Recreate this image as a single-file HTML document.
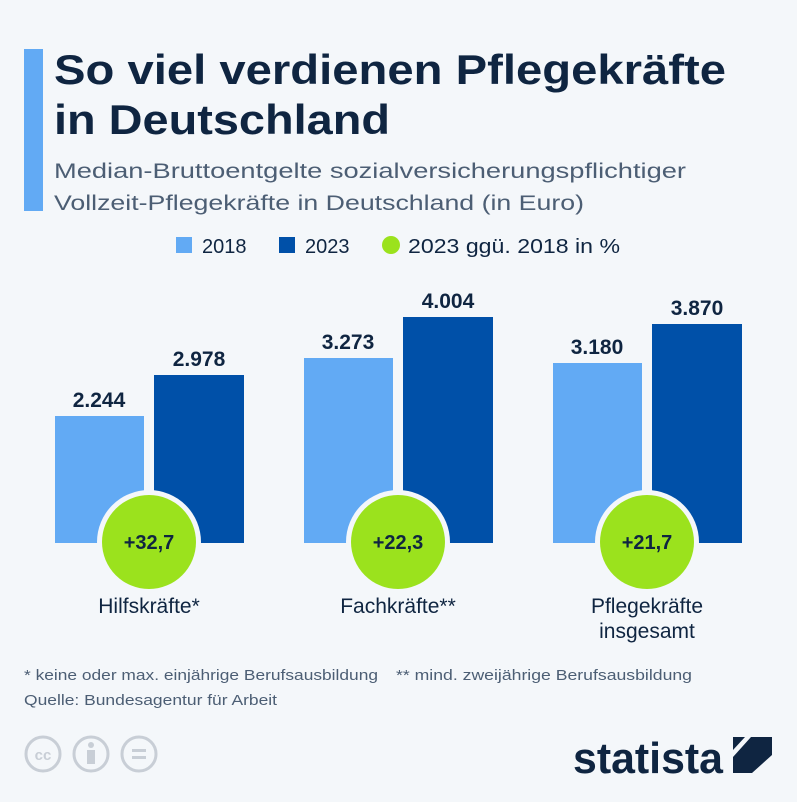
<!DOCTYPE html>
<html><head><meta charset="utf-8"><style>
body{margin:0;width:797px;height:797px;background:#f4f7fa;overflow:hidden;font-family:"Liberation Sans",sans-serif}
</style></head><body>
<svg width="797" height="797" xmlns="http://www.w3.org/2000/svg" font-family="Liberation Sans, sans-serif">
<rect width="797" height="797" fill="#f4f7fa"/>
<rect x="24" y="49" width="19" height="162" fill="#62aaf4"/>
<text x="54" y="84" font-size="42" font-weight="bold" fill="#0f2541" textLength="672" lengthAdjust="spacingAndGlyphs">So viel verdienen Pflegekräfte</text>
<text x="54" y="134" font-size="42" font-weight="bold" fill="#0f2541" textLength="336" lengthAdjust="spacingAndGlyphs">in Deutschland</text>
<text x="54" y="178" font-size="21" fill="#4c5e74" textLength="632" lengthAdjust="spacingAndGlyphs">Median-Bruttoentgelte sozialversicherungspflichtiger</text>
<text x="54" y="210" font-size="21" fill="#4c5e74" textLength="530" lengthAdjust="spacingAndGlyphs">Vollzeit-Pflegekräfte in Deutschland (in Euro)</text>
<rect x="176" y="237" width="16" height="16" fill="#62aaf4"/>
<text x="202" y="253" font-size="20" fill="#0f2541">2018</text>
<rect x="279" y="237" width="16" height="16" fill="#0050a8"/>
<text x="305" y="253" font-size="20" fill="#0f2541">2023</text>
<circle cx="391" cy="245" r="9" fill="#9be21d"/>
<text x="408" y="253" font-size="20" fill="#0f2541" textLength="212" lengthAdjust="spacingAndGlyphs">2023 ggü. 2018 in %</text>
<g font-size="21" font-weight="bold" fill="#0f2541" text-anchor="middle">
<rect x="55" y="416" width="89" height="127" fill="#62aaf4"/><rect x="154" y="375" width="90" height="168" fill="#0050a8"/>
<text x="99" y="407">2.244</text><text x="199" y="366">2.978</text>
<rect x="304" y="358" width="89" height="185" fill="#62aaf4"/><rect x="403" y="317" width="90" height="226" fill="#0050a8"/>
<text x="348" y="349">3.273</text><text x="448" y="308">4.004</text>
<rect x="553" y="363" width="89" height="180" fill="#62aaf4"/><rect x="652" y="324" width="90" height="219" fill="#0050a8"/>
<text x="597" y="354">3.180</text><text x="697" y="315">3.870</text>
<circle cx="149" cy="542" r="52" fill="#f4f7fa"/><circle cx="149" cy="542" r="47" fill="#9be21d"/>
<circle cx="398" cy="542" r="52" fill="#f4f7fa"/><circle cx="398" cy="542" r="47" fill="#9be21d"/>
<circle cx="647" cy="542" r="52" fill="#f4f7fa"/><circle cx="647" cy="542" r="47" fill="#9be21d"/>
<text x="149" y="549" font-size="20">+32,7</text><text x="398" y="549" font-size="20">+22,3</text><text x="647" y="549" font-size="20">+21,7</text>
</g>
<g font-size="21" fill="#0f2541" text-anchor="middle">
<text x="149" y="613">Hilfskräfte*</text>
<text x="398" y="613">Fachkräfte**</text>
<text x="647" y="613">Pflegekräfte</text>
<text x="647" y="638">insgesamt</text>
</g>
<text x="24" y="680" font-size="15" fill="#4c5e74" textLength="354" lengthAdjust="spacingAndGlyphs">* keine oder max. einjährige Berufsausbildung</text>
<text x="396" y="680" font-size="15" fill="#4c5e74" textLength="296" lengthAdjust="spacingAndGlyphs">** mind. zweijährige Berufsausbildung</text>
<text x="24" y="705" font-size="15" fill="#4c5e74" textLength="253" lengthAdjust="spacingAndGlyphs">Quelle: Bundesagentur für Arbeit</text>
<g fill="none" stroke="#c8ced6" stroke-width="3">
<circle cx="43" cy="754" r="17"/><circle cx="91" cy="754" r="17"/><circle cx="139" cy="754" r="17"/>
</g>
<text x="43" y="760" font-size="15" font-weight="bold" fill="#c8ced6" text-anchor="middle">cc</text>
<circle cx="91" cy="745" r="3" fill="#c8ced6"/><rect x="87" y="750" width="8" height="14" fill="#c8ced6"/>
<rect x="132" y="749" width="14" height="3" fill="#c8ced6"/><rect x="132" y="756" width="14" height="3" fill="#c8ced6"/>
<text x="573" y="773" font-size="44" font-weight="bold" fill="#0f2541" textLength="150" lengthAdjust="spacingAndGlyphs">statista</text>
<path d="M733 737 H772 V755 L752 773 H733 V757 L751 737 Z M733 737 V750 L745 737 Z" fill="#0f2541"/>
</svg>
</body></html>
